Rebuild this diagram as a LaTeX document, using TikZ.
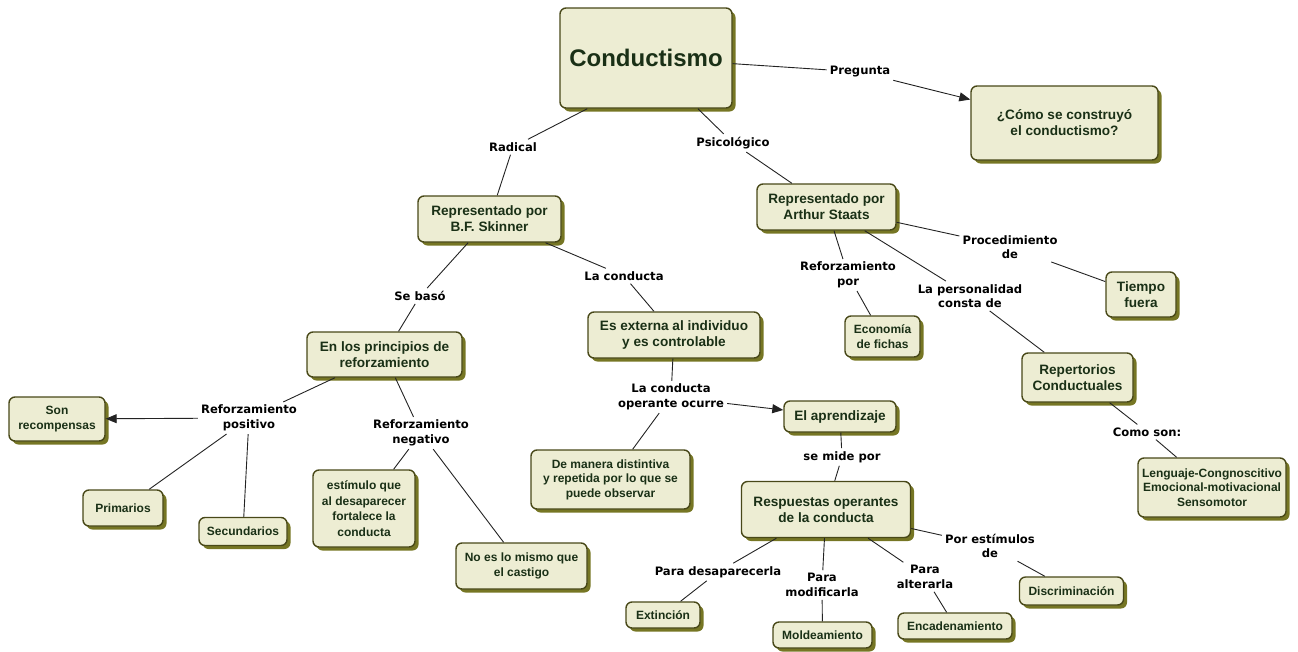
\documentclass[tikz,border=0pt]{standalone}
\usepackage{fontspec}
\setmainfont{Liberation Sans}
\newfontfamily\labelfont{DejaVu Sans}
\usetikzlibrary{shadows,arrows.meta}

\definecolor{boxfill}{RGB}{237,237,211}
\definecolor{boxline}{RGB}{72,72,24}
\definecolor{boxshade}{RGB}{118,118,36}
\definecolor{boxtext}{RGB}{26,48,22}
\definecolor{linkcol}{RGB}{35,35,35}

\tikzset{
  concept/.style={draw=boxline, line width=1.4pt, fill=boxfill, rounded corners=6pt,
    align=center, text=boxtext, inner sep=2pt,
    font=\bfseries\fontsize{13.6}{16}\selectfont,
    drop shadow={shadow xshift=3.5pt, shadow yshift=-3.5pt, fill=boxshade, opacity=1}},
  small/.style={font=\bfseries\fontsize{12}{14.5}\selectfont},
  mid/.style={font=\bfseries\fontsize{12}{15.5}\selectfont},
  link/.style={align=center, inner sep=3pt, text=black,
    font=\labelfont\bfseries\fontsize{11.6}{14.5}\selectfont},
  conn/.style={draw=linkcol, line width=0.9pt},
  arr/.style={conn, -{Triangle[length=11pt,width=9pt]}}
}

\begin{document}
\begin{tikzpicture}[x=1pt, y=-1pt]
\useasboundingbox (0,0) rectangle (1298,651);

% concepts
\node[concept, minimum width=172, minimum height=100,
      font=\bfseries\fontsize{24}{28}\selectfont] (cond) at (646,58) {Conductismo};
\node[concept, minimum width=187, minimum height=74] (como) at (1064.5,123) {¿Cómo se construyó\\el conductismo?};
\node[concept, minimum width=143, minimum height=46] (skin) at (489.5,219) {Representado por\\B.F. Skinner};
\node[concept, minimum width=139, minimum height=46] (staats) at (826.5,207) {Representado por\\Arthur Staats};
\node[concept, minimum width=155, minimum height=45] (princ) at (384.5,354.5) {En los principios de\\reforzamiento};
\node[concept, minimum width=172, minimum height=46] (ext) at (674,335) {Es externa al individuo\\y es controlable};
\node[concept, minimum width=70, minimum height=45] (tiempo) at (1141,294.5) {Tiempo\\fuera};
\node[concept, small, minimum width=75, minimum height=41] (econ) at (882.5,336.5) {Economía\\de fichas};
\node[concept, minimum width=111, minimum height=49] (rep) at (1077.5,377.5) {Repertorios\\Conductuales};
\node[concept, mid, minimum width=96, minimum height=44] (recomp) at (57,419) {Son\\recompensas};
\node[concept, minimum width=112, minimum height=31] (aprend) at (840,416.5) {El aprendizaje};
\node[concept, mid, minimum width=80, minimum height=36] (prim) at (123,508) {Primarios};
\node[concept, mid, minimum width=88, minimum height=28] (secund) at (243,531.5) {Secundarios};
\node[concept, mid, minimum width=102, minimum height=77] (estim) at (364,508.5) {estímulo que\\al desaparecer\\fortalece la\\conducta};
\node[concept, small, minimum width=159, minimum height=59] (manera) at (610.5,479.5) {De manera distintiva\\y repetida por lo que se\\puede observar};
\node[concept, small, minimum width=131, minimum height=46] (castigo) at (521.5,566) {No es lo mismo que\\el castigo};
\node[concept, minimum width=169, minimum height=56] (resp) at (826,509.5) {Respuestas operantes\\de la conducta};
\node[concept, small, minimum width=148, minimum height=59] (leng) at (1212,487.5) {Lenguaje-Congnoscitivo\\Emocional-motivacional\\Sensomotor};
\node[concept, small, minimum width=104, minimum height=28] (discr) at (1071.5,591) {Discriminación};
\node[concept, small, minimum width=74, minimum height=26] (extin) at (663,615) {Extinción};
\node[concept, small, minimum width=99, minimum height=26] (mold) at (822.5,635) {Moldeamiento};
\node[concept, small, minimum width=114, minimum height=26] (encad) at (955,626) {Encadenamiento};

% linking phrases
\node[link] (lpreg) at (860,72) {Pregunta};
\node[link] (lrad) at (513,147) {Radical};
\node[link] (lpsi) at (733,143) {Psicológico};
\node[link] (lbaso) at (420,296) {Se basó};
\node[link] (lcond) at (624,276) {La conducta};
\node[link] (lrefpor) at (848,275) {Reforzamiento\\por};
\node[link] (lpers) at (970,296) {La personalidad\\consta de};
\node[link] (lproc) at (1010,247) {Procedimiento\\de};
\node[link] (lpos) at (249,418) {Reforzamiento\\positivo};
\node[link] (lneg) at (421,433) {Reforzamiento\\negativo};
\node[link] (loper) at (671,397) {La conducta\\operante ocurre};
\node[link] (lmide) at (842,457) {se mide por};
\node[link] (lcomo) at (1147,432) {Como son:};
\node[link] (ldes) at (718,572) {Para desaparecerla};
\node[link] (lmod) at (822,585) {Para\\modificarla};
\node[link] (lalt) at (925,577) {Para\\alterarla};
\node[link] (lest) at (990,546) {Por estímulos\\de};

% connectors
\draw[conn] ([xshift=28pt]cond.south west) -- (lrad);
\draw[conn] (lrad) -- (skin);
\draw[conn] (cond) -- (lpsi);
\draw[conn] (lpsi) -- (staats);
\draw[conn] (cond) -- (lpreg);
\draw[arr] (lpreg) -- (como);

\draw[conn] (skin) -- (lbaso);
\draw[conn] (lbaso) -- (princ);
\draw[conn] (skin) -- (lcond);
\draw[conn] (lcond) -- (ext);

\draw[conn] (staats) -- (lrefpor);
\draw[conn] (lrefpor) -- (econ);
\draw[conn] (staats) -- (lpers);
\draw[conn] (lpers) -- (rep);
\draw[conn] (staats) -- (lproc);
\draw[conn] (lproc) -- (tiempo);

\draw[conn] (princ) -- (lpos);
\draw[arr] (lpos) -- (recomp);
\draw[conn] (lpos) -- (prim);
\draw[conn] (lpos) -- (secund);
\draw[conn] (princ) -- (lneg);
\draw[conn] (lneg) -- (estim);
\draw[conn] (lneg) -- (castigo);

\draw[conn] (ext) -- (loper);
\draw[arr] (loper) -- (aprend);
\draw[conn] (loper) -- (manera);

\draw[conn] (aprend) -- (lmide);
\draw[conn] (lmide) -- (resp);
\draw[conn] (resp) -- (ldes);
\draw[conn] (ldes) -- (extin);
\draw[conn] (resp) -- (lmod);
\draw[conn] (lmod) -- (mold);
\draw[conn] (resp) -- (lalt);
\draw[conn] (lalt) -- (encad);
\draw[conn] (resp) -- (lest);
\draw[conn] (lest) -- (discr);

\draw[conn] (rep) -- (lcomo);
\draw[conn] (lcomo) -- (leng);
\end{tikzpicture}
\end{document}
